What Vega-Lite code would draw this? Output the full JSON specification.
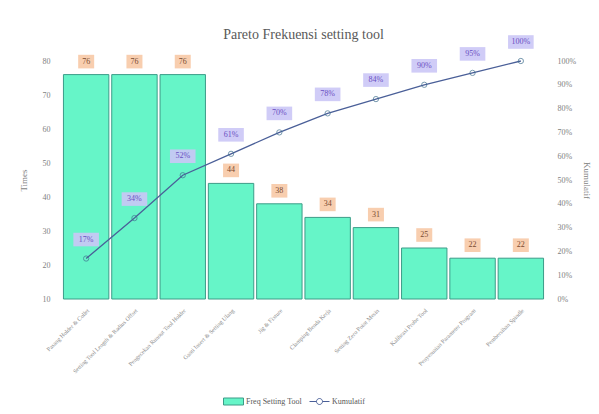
{
  "$schema": "https://vega.github.io/schema/vega-lite/v6.json",
  "width": 483,
  "height": 238,
  "autosize": {"type": "none"},
  "padding": {"left": 62, "top": 61, "right": 54, "bottom": 115},
  "background": "#ffffff",
  "title": {
    "text": "Pareto Frekuensi setting tool",
    "font": "Liberation Serif",
    "fontSize": 14,
    "fontWeight": "normal",
    "color": "#595959",
    "offset": -7
  },
  "config": {
    "view": {"stroke": null},
    "font": "Liberation Serif",
    "axis": {
      "labelFont": "Liberation Serif",
      "titleFont": "Liberation Serif",
      "labelColor": "#7f7f7f",
      "titleColor": "#7f7f7f",
      "grid": false,
      "domain": false,
      "ticks": false,
      "labelFontSize": 8,
      "titleFontSize": 9,
      "titleFontWeight": "normal"
    },
    "legend": {
      "title": null,
      "orient": "none",
      "direction": "horizontal",
      "labelFont": "Liberation Serif",
      "labelFontSize": 8,
      "labelColor": "#595959",
      "labelOffset": 7,
      "symbolSize": 100,
      "symbolStrokeWidth": 1,
      "symbolOpacity": 1
    }
  },
  "data": {
    "values": [
      {"alat": "Pasang Holder & Collet", "freq": 76, "kum": 0.17},
      {"alat": "Setting Tool Length & Radius Offset", "freq": 76, "kum": 0.34},
      {"alat": "Pengecekan Runout Tool Holder", "freq": 76, "kum": 0.52},
      {"alat": "Ganti Insert & Setting Ulang", "freq": 44, "kum": 0.61},
      {"alat": "Jig & Fixture", "freq": 38, "kum": 0.70},
      {"alat": "Clamping Benda Kerja", "freq": 34, "kum": 0.78},
      {"alat": "Setting Zero Point Mesin", "freq": 31, "kum": 0.84},
      {"alat": "Kalibrasi Probe Tool", "freq": 25, "kum": 0.90},
      {"alat": "Penyesuaian Parameter Program", "freq": 22, "kum": 0.95},
      {"alat": "Pembersihan Spindle", "freq": 22, "kum": 1.00}
    ]
  },
  "encoding": {
    "x": {
      "field": "alat",
      "type": "nominal",
      "sort": null,
      "scale": {"paddingInner": 0.06, "paddingOuter": 0.03},
      "axis": {"title": null, "labelAngle": -45, "labelFontSize": 6, "labelColor": "#8c8c8c", "labelPadding": 8, "labelLimit": 200}
    }
  },
  "layer": [
    {
      "encoding": {
        "y": {
          "field": "freq",
          "type": "quantitative",
          "scale": {"domain": [10, 80], "nice": false, "zero": false},
          "axis": {"orient": "left", "title": "Times", "values": [10, 20, 30, 40, 50, 60, 70, 80], "titlePadding": 14, "labelPadding": 12}
        }
      },
      "layer": [
        {
          "mark": {"type": "bar", "stroke": "#3C9C88", "strokeWidth": 1},
          "encoding": {
            "y2": {"datum": 10},
            "fill": {
              "datum": "Freq Setting Tool",
              "scale": {"domain": ["Freq Setting Tool"], "range": ["#66F5C8"]},
              "legend": {
                "legendX": 166,
                "legendY": 335,
                "symbolType": "M-2,-0.7H2V0.7H-2Z",
                "symbolStrokeColor": "#3C9C88"
              }
            }
          }
        },
        {
          "mark": {"type": "point", "shape": "M-1,-0.85H1V0.85H-1Z", "size": 256, "filled": true, "fill": "#F7C9A6", "opacity": 0.9, "strokeWidth": 0, "yOffset": -13}
        },
        {
          "mark": {"type": "text", "font": "Liberation Serif", "fontSize": 8, "color": "#7a4a30", "baseline": "middle", "yOffset": -13},
          "encoding": {"text": {"field": "freq", "type": "quantitative"}}
        }
      ]
    },
    {
      "encoding": {
        "y": {
          "field": "kum",
          "type": "quantitative",
          "scale": {"domain": [0, 1], "nice": false},
          "axis": {"orient": "right", "title": "Kumulatif", "format": ".0%", "values": [0, 0.1, 0.2, 0.3, 0.4, 0.5, 0.6, 0.7, 0.8, 0.9, 1], "titlePadding": 6, "labelPadding": 12}
        }
      },
      "layer": [
        {
          "mark": {"type": "line", "strokeWidth": 1.3},
          "encoding": {
            "stroke": {
              "datum": "Kumulatif",
              "scale": {"domain": ["Kumulatif"], "range": ["#4A5F98"]},
              "legend": {
                "legendX": 252,
                "legendY": 335,
                "symbolType": "M-2,0H-0.6M0.6,0H2M-0.6,0A0.6,0.6 0 1,1 0.6,0A0.6,0.6 0 1,1 -0.6,0",
                "symbolFillColor": "#ffffff"
              }
            }
          }
        },
        {
          "mark": {"type": "point", "filled": false, "size": 28, "strokeWidth": 1, "color": "#3F6F8E"}
        },
        {
          "mark": {"type": "point", "shape": "M-1.6,-0.85H1.6V0.85H-1.6Z", "size": 256, "filled": true, "fill": "#CBC6F6", "opacity": 0.9, "strokeWidth": 0, "yOffset": -19}
        },
        {
          "mark": {"type": "text", "font": "Liberation Serif", "fontSize": 8, "color": "#6A4FC2", "baseline": "middle", "yOffset": -19},
          "encoding": {"text": {"field": "kum", "type": "quantitative", "format": ".0%"}}
        }
      ]
    }
  ],
  "resolve": {"scale": {"y": "independent", "fill": "independent", "stroke": "independent"}}
}
